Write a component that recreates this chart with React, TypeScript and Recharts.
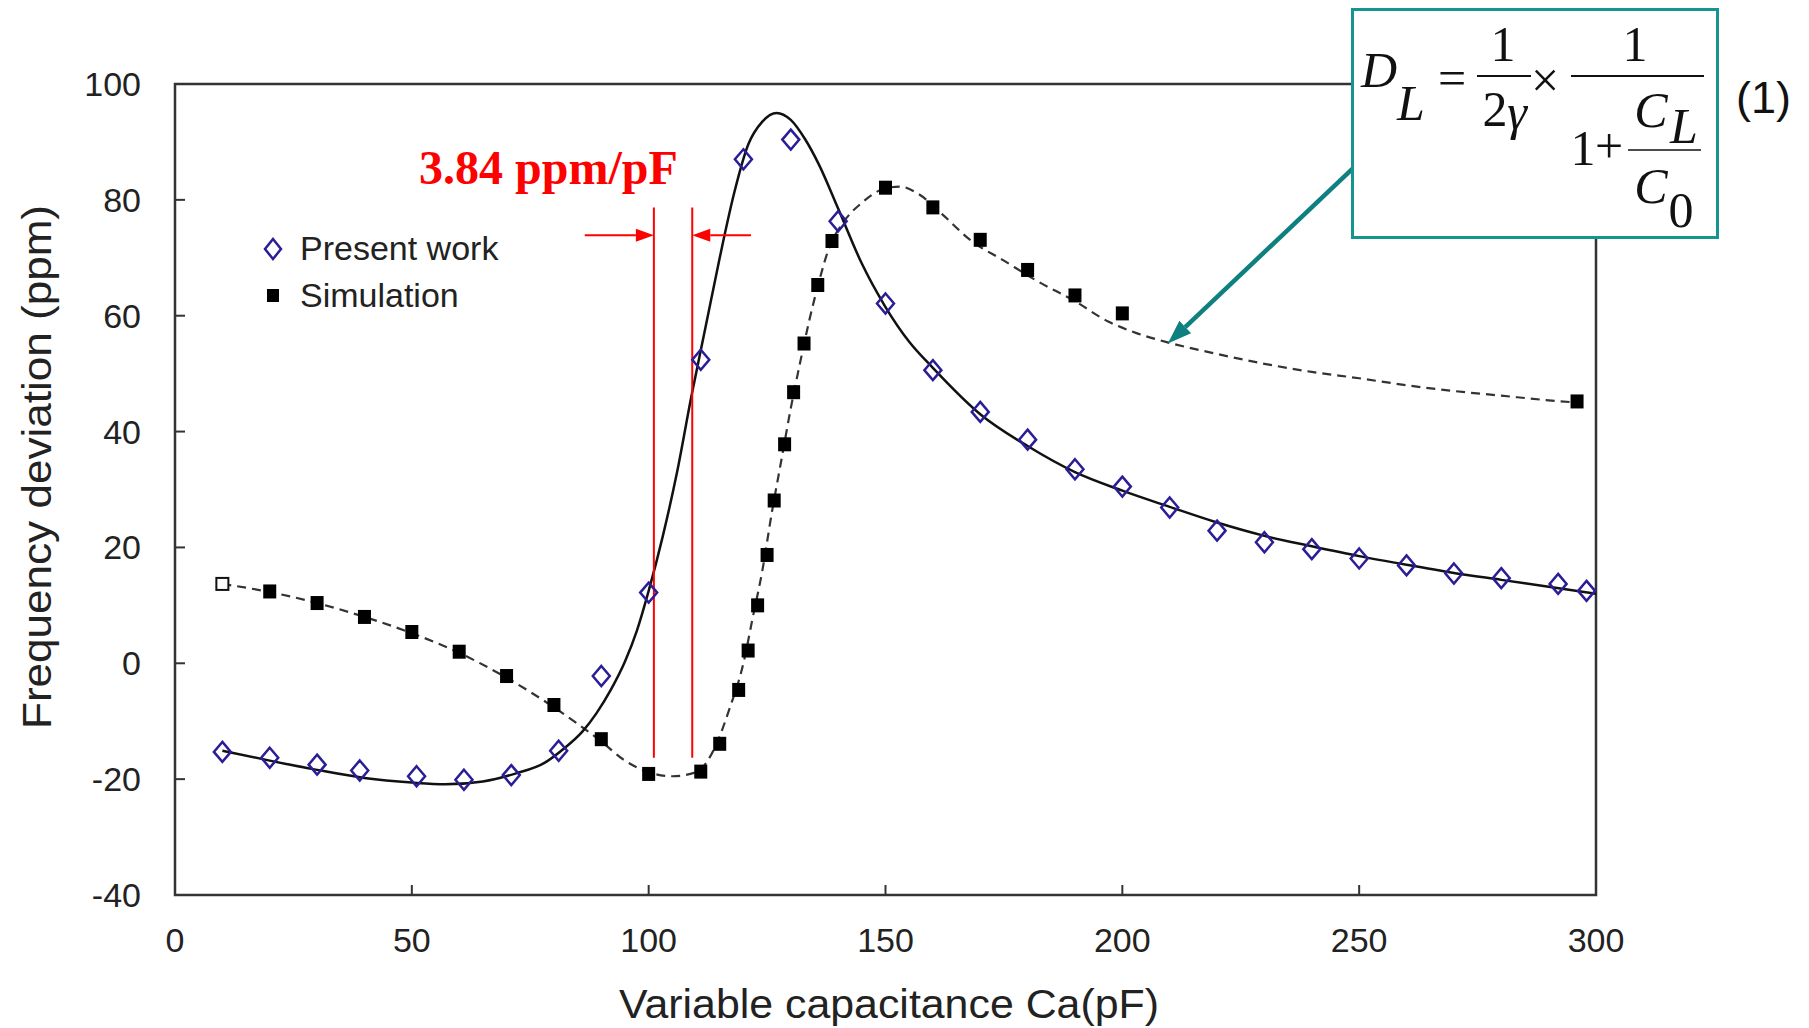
import React from 'react';
import {
  ComposedChart,
  Line,
  Scatter,
  XAxis,
  YAxis,
  ReferenceArea,
  ReferenceLine,
  Legend,
} from 'recharts';

// measured points, "Present work"
const presentX = [10, 20, 30, 39, 51, 61, 71, 81, 90, 100, 111, 120, 130, 140, 150, 160, 170, 180, 190, 200, 210, 220, 230, 240, 250, 260, 270, 280, 292, 298];
const presentY = [-15.3, -16.3, -17.5, -18.5, -19.5, -20.1, -19.3, -15.1, -2.2, 12.2, 52.4, 87.0, 90.4, 76.3, 62.1, 50.6, 43.4, 38.6, 33.5, 30.5, 26.9, 22.9, 20.9, 19.7, 18.1, 16.9, 15.5, 14.7, 13.7, 12.5];

// simulation points (first one is drawn hollow)
const simX = [10, 20, 30, 40, 50, 60, 70, 80, 90, 100, 111, 115, 119, 121, 123, 125, 126.5, 128.7, 130.6, 132.8, 135.7, 138.7, 150, 160, 170, 180, 190, 200, 296];
const simY = [13.7, 12.4, 10.4, 8.0, 5.4, 2.0, -2.2, -7.2, -13.1, -19.1, -18.7, -13.9, -4.6, 2.2, 10.0, 18.7, 28.1, 37.8, 46.8, 55.2, 65.3, 72.9, 82.1, 78.7, 73.1, 67.9, 63.5, 60.4, 45.2];

// solid fitted curve
const presentFitX = [10, 20, 30, 40, 50, 57, 65, 72, 78, 82, 86, 89, 92, 95, 97.5, 100, 103, 106, 109, 112, 115, 118, 121, 124, 127, 130, 133, 136, 140, 145, 150, 155, 160, 170, 180, 190, 200, 210, 220, 230, 240, 250, 260, 270, 280, 290, 300];
const presentFitY = [-15.1, -16.8, -18.4, -19.8, -20.6, -20.9, -20.4, -19.0, -17.2, -14.8, -11.8, -8.6, -4.6, 0.3, 5.6, 12.5, 22, 33, 46, 58, 70, 81, 89.5, 93.5, 95, 93.8, 90.5, 86, 78.5, 69, 61.5, 55.5, 51, 43, 37.5, 33, 29.8, 27, 24.3, 22, 20.2, 18.5, 17, 15.6, 14.4, 13.2, 12];

// dashed simulation curve
const simFitX = [10, 20, 30, 40, 50, 60, 70, 80, 90, 95, 100, 105, 110, 114, 117, 120, 122, 124, 126, 128, 130, 132, 134, 136, 138, 141, 145, 150, 153, 157, 162, 168, 175, 182, 190, 197, 203, 210, 220, 230, 240, 250, 260, 270, 280, 290, 296];
const simFitY = [13.7, 12.3, 10.4, 8.0, 5.2, 1.8, -2.5, -7.6, -13.5, -16.8, -18.8, -19.5, -18.8, -14.5, -8, 0, 8, 16, 26, 35, 44, 52, 59.5, 66, 71.5, 76, 79.5, 82, 82.3, 81, 77.5, 73, 69.5, 66, 62.5, 59, 57, 55.3, 53.4, 51.7, 50.3, 49.2, 48, 47, 46.2, 45.4, 45];

const xTicks = [0, 50, 100, 150, 200, 250, 300];
const yTicks = [-40, -20, 0, 20, 40, 60, 80, 100];

// annotation geometry in data units
const slopeLinesX = [101.1, 109.2];
const slopeLineY = [-16.3, 78.7];
const slopeArrowY = 73.9;
const slopeArrowTails = [86.5, 121.6];
const tealArrow = [{ x: 249.4, y: 86 }, { x: 209.6, y: 55.2 }];

const presentData = presentX.map((x, i) => ({ x, y: presentY[i] }));
const simData = simX.map((x, i) => ({ x, y: simY[i] }));
const presentFit = presentFitX.map((x, i) => ({ x, y: presentFitY[i] }));
const simFit = simFitX.map((x, i) => ({ x, y: simFitY[i] }));

const SANS = '"Liberation Sans", Arial, sans-serif';
const SERIF = '"Liberation Serif", "Times New Roman", serif';

const DiamondShape = (props: any) => {
  const { cx, cy } = props;
  if (cx == null || cy == null) return <g />;
  return (
    <polygon
      points={`${cx},${cy - 10} ${cx + 8.5},${cy} ${cx},${cy + 10} ${cx - 8.5},${cy}`}
      fill="none"
      stroke="#2a1e96"
      strokeWidth={2.5}
    />
  );
};

const SquareShape = (props: any) => {
  const { cx, cy, payload } = props;
  if (cx == null || cy == null) return <g />;
  const hollow = payload && payload.x === simX[0];
  return hollow ? (
    <rect x={cx - 6} y={cy - 6} width={12} height={12} fill="#fff" stroke="#111" strokeWidth={2} />
  ) : (
    <rect x={cx - 6.5} y={cy - 7} width={13} height={14} fill="#000" />
  );
};

const YTick = (props: any) => {
  const { x, y, payload } = props;
  return (
    <g>
      <line x1={x} y1={y} x2={x + 10} y2={y} stroke="#333" strokeWidth={2} />
      <text x={x - 34} y={y} textAnchor="end" dominantBaseline="central" fontSize={34} fill="#222" fontFamily={SANS}>
        {payload.value}
      </text>
    </g>
  );
};

const XTick = (props: any) => {
  const { x, y, payload } = props;
  return (
    <g>
      <line x1={x} y1={y} x2={x} y2={y - 10} stroke="#333" strokeWidth={2} />
      <text x={x} y={y + 45} textAnchor="middle" dominantBaseline="central" fontSize={34} fill="#222" fontFamily={SANS}>
        {payload.value}
      </text>
    </g>
  );
};

const arrowShape = (color: string, width: number, headLen: number, headW: number) => (p: any) => {
  const { x1, y1, x2, y2 } = p;
  const ang = Math.atan2(y2 - y1, x2 - x1);
  const bx = x2 - headLen * Math.cos(ang);
  const by = y2 - headLen * Math.sin(ang);
  const nx = (-Math.sin(ang) * headW) / 2;
  const ny = (Math.cos(ang) * headW) / 2;
  return (
    <g>
      <line x1={x1} y1={y1} x2={bx} y2={by} stroke={color} strokeWidth={width} />
      <polygon points={`${x2},${y2} ${bx + nx},${by + ny} ${bx - nx},${by - ny}`} fill={color} />
    </g>
  );
};

const renderLegend = (props: any) => {
  const items = (props.payload || []).filter((p: any) => p.type === 'diamond' || p.type === 'square');
  return (
    <div style={{ fontFamily: SANS, fontSize: 34, color: '#222' }}>
      {items.map((it: any) => (
        <div key={it.value} style={{ display: 'flex', alignItems: 'center', height: 47 }}>
          <svg width={30} height={30} style={{ marginRight: 12 }}>
            {it.type === 'diamond' ? (
              <polygon points="15,5 23,15 15,25 7,15" fill="none" stroke="#2a1e96" strokeWidth={2.5} />
            ) : (
              <rect x={9} y={8} width={12} height={13} fill="#000" />
            )}
          </svg>
          <span style={{ whiteSpace: 'nowrap' }}>{it.value}</span>
        </div>
      ))}
    </div>
  );
};

const Formula = () => (
  <svg width={368} height={231} style={{ position: 'absolute', left: 1351, top: 8 }}>
    <rect x={1.5} y={1.5} width={365} height={228} fill="#fff" stroke="#16948f" strokeWidth={3} />
    <g fontFamily={SERIF} fontSize={50} fill="#111" dominantBaseline="central" textAnchor="middle">
      <text x={28} y={62} fontStyle="italic">D</text>
      <text x={60} y={95} fontStyle="italic">L</text>
      <text x={101} y={70}>=</text>
      <text x={152} y={36}>1</text>
      <line x1={126} y1={68} x2={180} y2={68} stroke="#111" strokeWidth={2} />
      <text x={144} y={101}>2</text>
      <text x={166} y={104} fontStyle="italic">γ</text>
      <text x={194} y={72}>×</text>
      <text x={284} y={36}>1</text>
      <line x1={220} y1={68} x2={353} y2={68} stroke="#111" strokeWidth={2} />
      <text x={232} y={140}>1</text>
      <text x={258} y={138}>+</text>
      <text x={300} y={102} fontStyle="italic">C</text>
      <text x={333} y={118} fontStyle="italic">L</text>
      <line x1={277} y1={142} x2={350} y2={142} stroke="#111" strokeWidth={1.5} />
      <text x={300} y={178} fontStyle="italic">C</text>
      <text x={330} y={202}>0</text>
    </g>
  </svg>
);

export default function App() {
  return (
    <div style={{ position: 'absolute', left: 0, top: 0, width: 1809, height: 1028, background: '#fff' }}>
      <ComposedChart width={1809} height={1028} margin={{ top: 84, right: 213, left: 0, bottom: 0 }}>
        <XAxis
          dataKey="x"
          type="number"
          domain={[0, 300]}
          ticks={xTicks}
          allowDataOverflow
          axisLine={false}
          tickLine={false}
          tickSize={0}
          tickMargin={0}
          height={133}
          tick={<XTick />}
          label={{
            content: () => (
              <text x={889} y={1004} textAnchor="middle" dominantBaseline="central" fontSize={40} textLength={540} lengthAdjust="spacingAndGlyphs" fill="#222" fontFamily={SANS}>
                Variable capacitance Ca(pF)
              </text>
            ),
          }}
        />
        <YAxis
          type="number"
          domain={[-40, 100]}
          ticks={yTicks}
          allowDataOverflow
          axisLine={false}
          tickLine={false}
          tickSize={0}
          tickMargin={0}
          width={175}
          tick={<YTick />}
          label={{
            content: () => (
              <text x={37} y={467} transform="rotate(-90 37 467)" textAnchor="middle" dominantBaseline="central" fontSize={40} textLength={524} lengthAdjust="spacingAndGlyphs" fill="#222" fontFamily={SANS}>
                Frequency deviation (ppm)
              </text>
            ),
          }}
        />
        <ReferenceArea x1={0} x2={300} y1={-40} y2={100} fill="none" stroke="#333" strokeWidth={2.5} ifOverflow="visible" />
        <Legend
          content={renderLegend}
          layout="horizontal"
          verticalAlign="middle"
          align="center"
          wrapperStyle={{ position: 'absolute', left: 258, top: 225, width: 'auto', height: 'auto' }}
        />
        <Line data={simFit} dataKey="y" type="monotone" stroke="#333" strokeWidth={2.2} strokeDasharray="9 6" dot={false} activeDot={false} legendType="none" isAnimationActive={false} />
        <Line data={presentFit} dataKey="y" type="monotone" stroke="#111" strokeWidth={2.5} dot={false} activeDot={false} legendType="none" isAnimationActive={false} />
        <Scatter name="Present work" data={presentData} dataKey="y" shape={<DiamondShape />} legendType="diamond" isAnimationActive={false} />
        <Scatter name="Simulation" data={simData} dataKey="y" shape={<SquareShape />} legendType="square" isAnimationActive={false} />
        {slopeLinesX.map((sx) => (
          <ReferenceLine
            key={sx}
            segment={[{ x: sx, y: slopeLineY[0] }, { x: sx, y: slopeLineY[1] }]}
            stroke="#ff0000"
            strokeWidth={2}
            ifOverflow="visible"
          />
        ))}
        <ReferenceLine
          segment={[{ x: slopeArrowTails[0], y: slopeArrowY }, { x: slopeLinesX[0], y: slopeArrowY }]}
          shape={arrowShape('#ff0000', 2, 18, 13)}
          ifOverflow="visible"
        />
        <ReferenceLine
          segment={[{ x: slopeArrowTails[1], y: slopeArrowY }, { x: slopeLinesX[1], y: slopeArrowY }]}
          shape={arrowShape('#ff0000', 2, 18, 13)}
          ifOverflow="visible"
        />
        <ReferenceLine
          segment={tealArrow}
          shape={arrowShape('#0f8080', 4.5, 24, 17)}
          ifOverflow="visible"
        />
      </ComposedChart>
      <div
        style={{
          position: 'absolute',
          left: 419,
          top: 140,
          fontFamily: SERIF,
          fontWeight: 'bold',
          fontSize: 48,
          color: '#ff0000',
          whiteSpace: 'nowrap',
          lineHeight: '56px',
        }}
      >
        3.84 ppm/pF
      </div>
      <Formula />
      <div
        style={{
          position: 'absolute',
          left: 1736,
          top: 70,
          fontFamily: SANS,
          fontSize: 45,
          color: '#111',
          lineHeight: '56px',
        }}
      >
        (1)
      </div>
    </div>
  );
}
